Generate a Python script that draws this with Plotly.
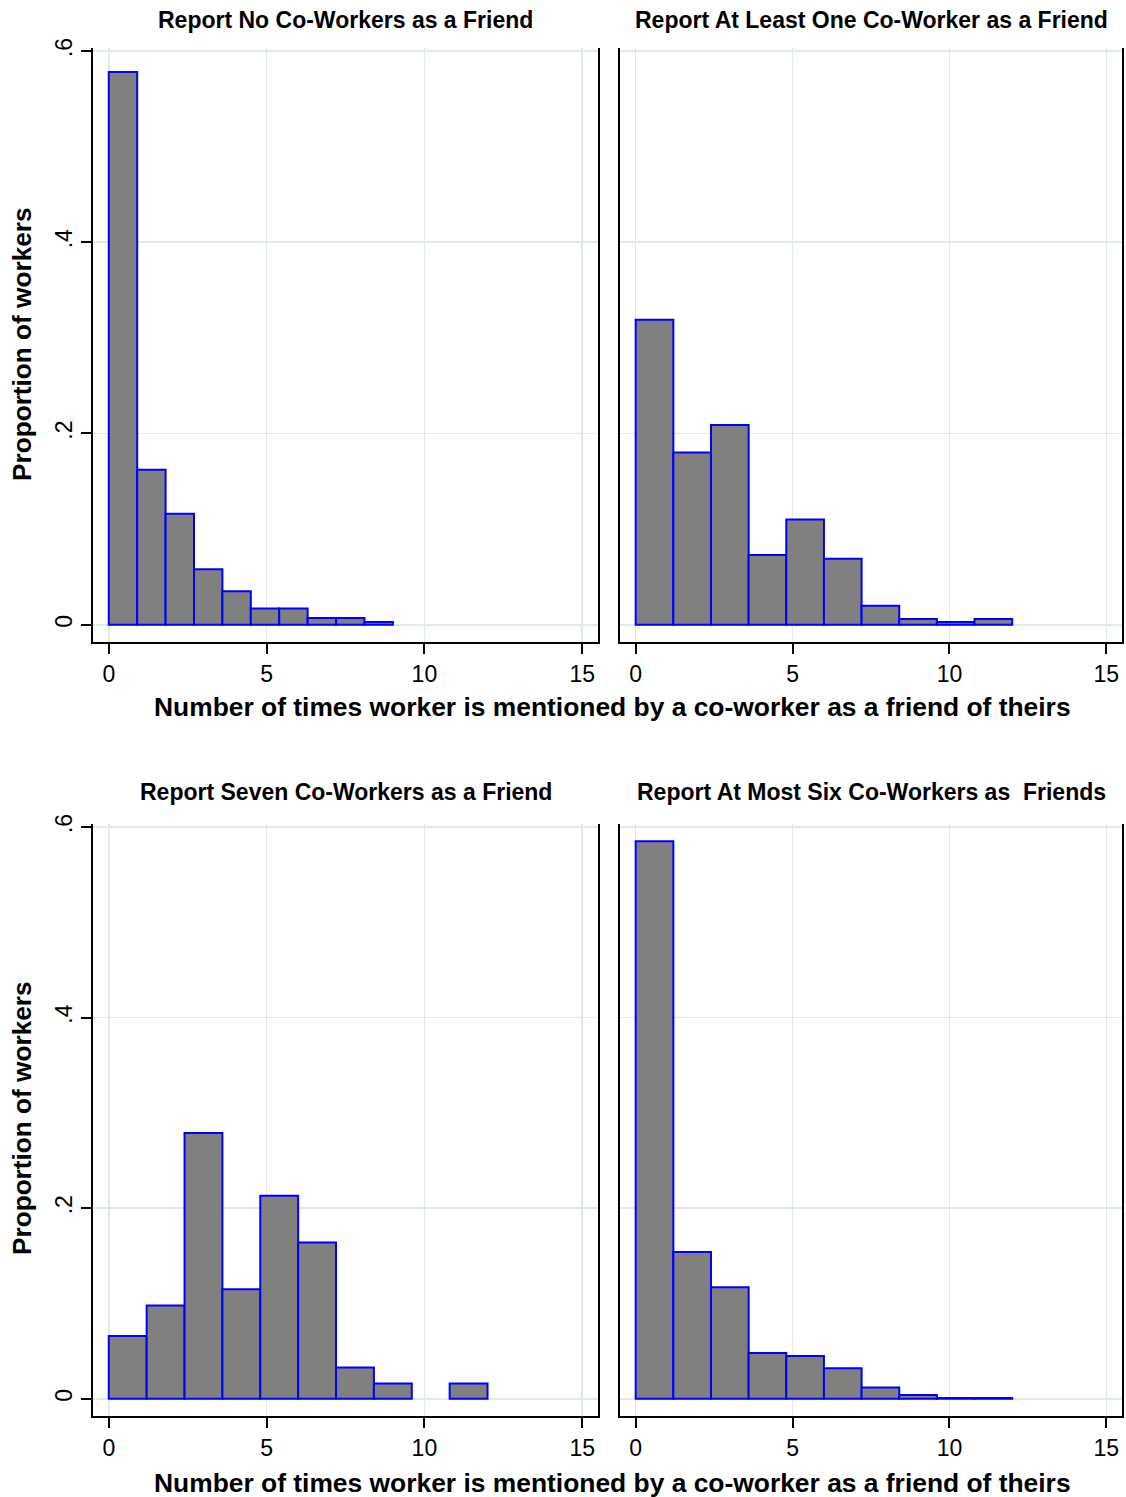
import plotly.graph_objects as go

# ---- data (proportion of workers per bin) ----
titles = [
    "Report No Co-Workers as a Friend",
    "Report At Least One Co-Worker as a Friend",
    "Report Seven Co-Workers as a Friend",
    "Report At Most Six Co-Workers as  Friends",
]
bin_start = [0, 0, 0, 0]
bin_width = [0.9, 1.2, 1.2, 1.2]
heights_no_friend = [0.578, 0.162, 0.116, 0.058, 0.035, 0.017, 0.017, 0.007, 0.007, 0.003]
heights_at_least_one = [0.319, 0.180, 0.209, 0.073, 0.110, 0.069, 0.020, 0.006, 0.003, 0.006]
heights_seven = [0.066, 0.098, 0.279, 0.115, 0.213, 0.164, 0.033, 0.016, 0.0, 0.016]
heights_at_most_six = [0.585, 0.154, 0.117, 0.048, 0.045, 0.032, 0.012, 0.004, 0.001, 0.001]
all_heights = [heights_no_friend, heights_at_least_one, heights_seven, heights_at_most_six]

x_tickvals = [0, 5, 10, 15]
x_ticktext = ["0", "5", "10", "15"]
y_tickvals = [0, 0.2, 0.4, 0.6]
y_ticktext = ["0", ".2", ".4", ".6"]

x_title = "Number of times worker is mentioned by a co-worker as a friend of theirs"
y_title = "Proportion of workers"

# ---- layout geometry ----
W, H = 1126, 1497
# observed page rendering: small vertical offset + fit-to-height; compensate
VOFF, VSCALE = 10.0, 0.9933
def px_x(p): return p / W
def px_y(p): return 1 - ((p - VOFF) / VSCALE) / H

col_dom = [[px_x(93), px_x(598)], [px_x(620), px_x(1122)]]
row_dom = [[px_y(642), px_y(48)], [px_y(1416), px_y(824)]]

FONT = "Liberation Sans, Arial, Helvetica, sans-serif"
fig = go.Figure()
layout = dict(
    width=W, height=H, margin=dict(l=0, r=0, t=0, b=0),
    paper_bgcolor="white", plot_bgcolor="white", showlegend=False,
    font=dict(family=FONT, color="black"),
    bargap=0,
)

annotations = []
for i in range(4):
    r, c = divmod(i, 2)
    n = i + 1
    xa = "x" if n == 1 else f"x{n}"
    ya = "y" if n == 1 else f"y{n}"
    hs = all_heights[i]
    xs, ys = [], []
    for k, h in enumerate(hs):
        if h > 0:
            xs.append(bin_start[i] + bin_width[i] * (k + 0.5))
            ys.append(h)
    fig.add_trace(go.Bar(
        x=xs, y=ys, width=bin_width[i], xaxis=xa, yaxis=ya,
        marker=dict(color="#808080", line=dict(color="#0000ff", width=2)),
        hoverinfo="skip",
    ))
    layout["xaxis" if n == 1 else f"xaxis{n}"] = dict(
        domain=col_dom[c], anchor=ya, range=[-0.5, 15.5],
        tickvals=x_tickvals, ticktext=x_ticktext,
        showgrid=True, gridcolor="#e0e9ec", gridwidth=1.5, zeroline=False,
        showline=True, linecolor="black", linewidth=2,
        ticks="outside", ticklen=10, tickwidth=2, tickcolor="black",
        tickfont=dict(size=23, family=FONT), fixedrange=True,
    )
    left = (c == 0)
    layout["yaxis" if n == 1 else f"yaxis{n}"] = dict(
        domain=row_dom[r], anchor=xa, range=[-0.018, 0.603],
        tickvals=y_tickvals, ticktext=y_ticktext, tickangle=-90,
        showticklabels=left,
        showgrid=True, gridcolor="#e0e9ec", gridwidth=1.5, zeroline=False,
        showline=True, linecolor="black", linewidth=2, mirror=True,
        ticks="outside" if left else "", ticklen=10, tickwidth=2, tickcolor="black",
        tickfont=dict(size=23, family=FONT), fixedrange=True,
    )
    title_y = px_y(20) if r == 0 else px_y(792)
    annotations.append(dict(
        text=f"<b>{titles[i]}</b>", xref="paper", yref="paper",
        x=sum(col_dom[c]) / 2, y=title_y, xanchor="center", yanchor="middle",
        showarrow=False, font=dict(size=23, family=FONT),
    ))

for r, (xy, yy) in enumerate([(px_y(707), px_y(344)), (px_y(1483), px_y(1118))]):
    annotations.append(dict(
        text=f"<b>{x_title}</b>", xref="paper", yref="paper",
        x=px_x(612), y=xy, xanchor="center", yanchor="middle",
        showarrow=False, font=dict(size=26.4, family=FONT),
    ))
    annotations.append(dict(
        text=f"<b>{y_title}</b>", xref="paper", yref="paper",
        x=px_x(22), y=yy, xanchor="center", yanchor="middle", textangle=-90,
        showarrow=False, font=dict(size=26.2, family=FONT),
    ))

layout["annotations"] = annotations
fig.update_layout(**layout)
fig.write_html(
    "out.html",
    config={"displayModeBar": False, "staticPlot": True},
    post_script=(
        "document.documentElement.style.margin='0';"
        "document.body.style.margin='0';"
    ),
)
